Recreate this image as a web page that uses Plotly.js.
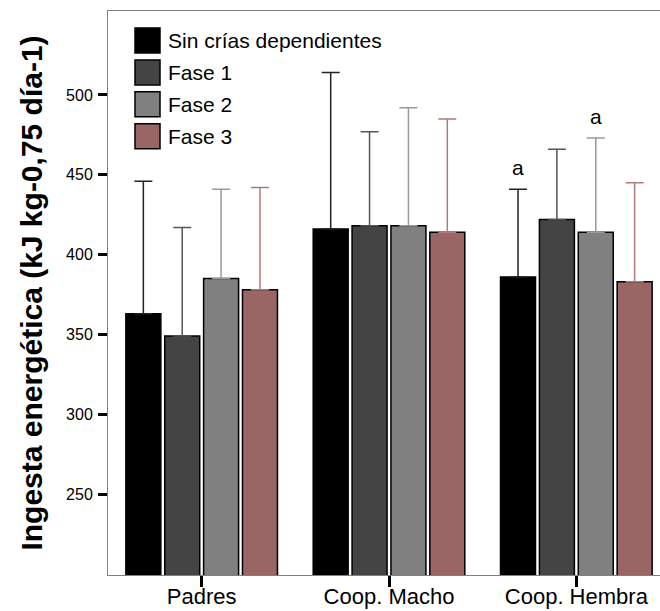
<!DOCTYPE html>
<html>
<head>
<meta charset="utf-8">
<script src="https://cdn.plot.ly/plotly-3.0.1.min.js"></script>
<style>
  html, body { margin: 0; padding: 0; background: #fff; }
  #chart { width: 660px; height: 611px; overflow: hidden; }
</style>
</head>
<body>
<div id="chart"></div>
<script>
// Groups of birds on the x axis
const groups = ['Padres', 'Coop. Macho', 'Coop. Hembra'];

// Breeding phase of each series
const seriesNames = ['Sin crías dependientes', 'Fase 1', 'Fase 2', 'Fase 3'];

// Mean energy intake (kJ kg-0,75 día-1) per group
const sinCrias = [363, 416, 386];
const fase1    = [349, 418, 422];
const fase2    = [385, 418, 414];
const fase3    = [378, 414, 383];

// Standard deviation (upper whisker) per group
const sdSinCrias = [83, 98, 55];
const sdFase1    = [68, 59, 44];
const sdFase2    = [56, 74, 59];
const sdFase3    = [64, 71, 62];

// Significance letters: [group index, series index, letter]
const letters = [[2, 0, 'a'], [2, 2, 'a']];

const yTicks = [250, 300, 350, 400, 450, 500];

// ---- styling ----
const means = [sinCrias, fase1, fase2, fase3];
const sds = [sdSinCrias, sdFase1, sdFase2, sdFase3];
const fills = ['#000000', '#444444', '#808080', '#9a6565'];
const whiskers = ['#222222', '#555555', '#9a9a9a', '#b07a7a'];
const FONT = 'Arial, "Liberation Sans", Helvetica, sans-serif';

const BARGAP = 0.17;
const GROUPGAP = 0.1;

const traces = means.map((vals, i) => ({
  type: 'bar',
  name: seriesNames[i],
  x: groups,
  y: vals,
  marker: { color: fills[i], line: { color: '#000000', width: 1.5 } },
  error_y: {
    type: 'data',
    array: sds[i],
    symmetric: false,
    arrayminus: sds[i].map(() => 0),
    color: whiskers[i],
    thickness: 1.5,
    width: 9
  },
  showlegend: false,
  hoverinfo: 'x+y+name'
}));

// plot area geometry (pixels) for placing the hand-built legend
const W = 672, H = 611;
const M = { l: 108, r: 2, t: 11, b: 36 };
const pw = W - M.l - M.r, ph = H - M.t - M.b;
const px = v => (v - M.l) / pw;
const py = v => (H - M.b - v) / ph;

const shapes = [];
const annotations = [];
seriesNames.forEach((name, i) => {
  const cy = 40.5 + i * 31.9;
  shapes.push({
    type: 'rect', xref: 'paper', yref: 'paper',
    x0: px(135), x1: px(160), y0: py(cy - 12.5), y1: py(cy + 12.5),
    fillcolor: fills[i], line: { color: '#000000', width: 1.5 }
  });
  annotations.push({
    xref: 'paper', yref: 'paper', x: px(166), y: py(cy),
    xanchor: 'left', yanchor: 'middle', showarrow: false,
    text: name, font: { family: FONT, size: 21, color: '#000' }
  });
});

// letters sit on top of the whiskers of the marked bars
const slot = (1 - BARGAP) / means.length;
letters.forEach(([g, s, txt]) => {
  annotations.push({
    xref: 'x', yref: 'y',
    x: g + (s - (means.length - 1) / 2) * slot,
    y: means[s][g] + sds[s][g],
    yanchor: 'bottom', yshift: 8, showarrow: false,
    text: txt, font: { family: FONT, size: 21, color: '#000' }
  });
});

const layout = {
  width: W, height: H,
  margin: M,
  paper_bgcolor: '#ffffff',
  plot_bgcolor: '#ffffff',
  barmode: 'group',
  bargap: BARGAP,
  bargroupgap: GROUPGAP,
  font: { family: FONT, color: '#000' },
  xaxis: {
    type: 'category',
    range: [-0.5, 2.5],
    showline: true, linecolor: '#808080', linewidth: 1, mirror: true,
    ticks: 'outside', ticklen: 11, tickwidth: 3, tickcolor: '#000',
    ticklabelstandoff: -9,
    tickfont: { family: FONT, size: 22, color: '#000' },
    showgrid: false, zeroline: false
  },
  yaxis: {
    range: [199.3, 552.6],
    tickvals: yTicks,
    showline: true, linecolor: '#808080', linewidth: 1, mirror: true,
    ticks: 'outside', ticklen: 9, tickwidth: 3, tickcolor: '#000',
    ticklabelstandoff: 2,
    tickfont: { family: FONT, size: 16, color: '#000' },
    showgrid: false, zeroline: false,
    title: {
      text: 'Ingesta energética (kJ kg-0,75 día-1)',
      font: { family: FONT, size: 30, color: '#000', weight: 'bold' },
      standoff: 14
    }
  },
  shapes: shapes,
  annotations: annotations
};

Plotly.newPlot('chart', traces, layout, { displayModeBar: false, staticPlot: true });
</script>
</body>
</html>
